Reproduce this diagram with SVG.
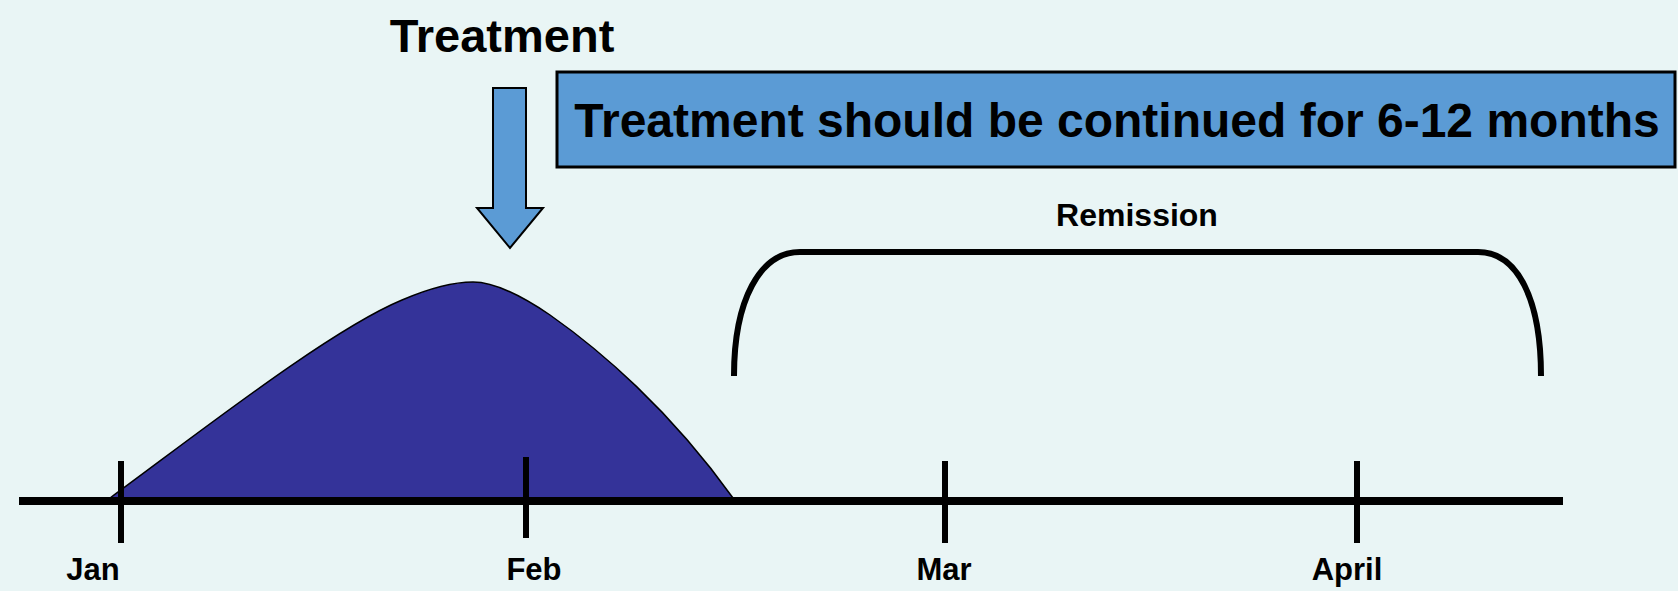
<svg xmlns="http://www.w3.org/2000/svg" width="1678" height="591" viewBox="0 0 1678 591">
<style>
.lbl{font-family:"Liberation Sans",Arial,sans-serif;font-weight:bold;fill:#000;text-anchor:middle}
.tick{stroke:#000;stroke-width:6;fill:none}
</style>
<rect x="0" y="0" width="1678" height="591" fill="#E9F5F5"/>
<g id="hill">
<path d="M110,498 C200,432 330,330 402,300 C430,288 455,282 473,282 C495,282 525,298 550,315 C600,350 670,410 733,498 Z" fill="#343399" stroke="#000" stroke-width="1.5"/>
</g>
<g id="timeline">
<line x1="19" y1="501" x2="1563" y2="501" stroke="#000" stroke-width="8"/>
<line class="tick" x1="121" y1="461" x2="121" y2="543"/>
<line class="tick" x1="526" y1="457" x2="526" y2="538"/>
<line class="tick" x1="945" y1="461" x2="945" y2="543"/>
<line class="tick" x1="1357" y1="461" x2="1357" y2="543"/>
</g>
<g id="labels">
<text class="lbl" x="93" y="580" font-size="31">Jan</text>
<text class="lbl" x="534" y="580" font-size="31">Feb</text>
<text class="lbl" x="944" y="580" font-size="31">Mar</text>
<text class="lbl" x="1347" y="580" font-size="31">April</text>
</g>
<g id="treatment">
<text class="lbl" x="502" y="52" font-size="47">Treatment</text>
</g>
<g id="connectors">
<polygon points="493,88 526,88 526,208 543,208 510,248 477,208 493,208" fill="#5B9BD5" stroke="#000" stroke-width="2"/>
</g>
<g id="duration-box">
<rect x="557" y="72" width="1118" height="95" fill="#5B9BD5" stroke="#000" stroke-width="3"/>
<text class="lbl" x="1117" y="137" font-size="48">Treatment should be continued for 6-12 months</text>
</g>
<g id="remission">
<path d="M734,376 C734,300 760,252 800,252 L1478,252 C1518,252 1541,300 1541,376" fill="none" stroke="#000" stroke-width="6"/>
<text class="lbl" x="1137" y="226" font-size="32">Remission</text>
</g>
</svg>
